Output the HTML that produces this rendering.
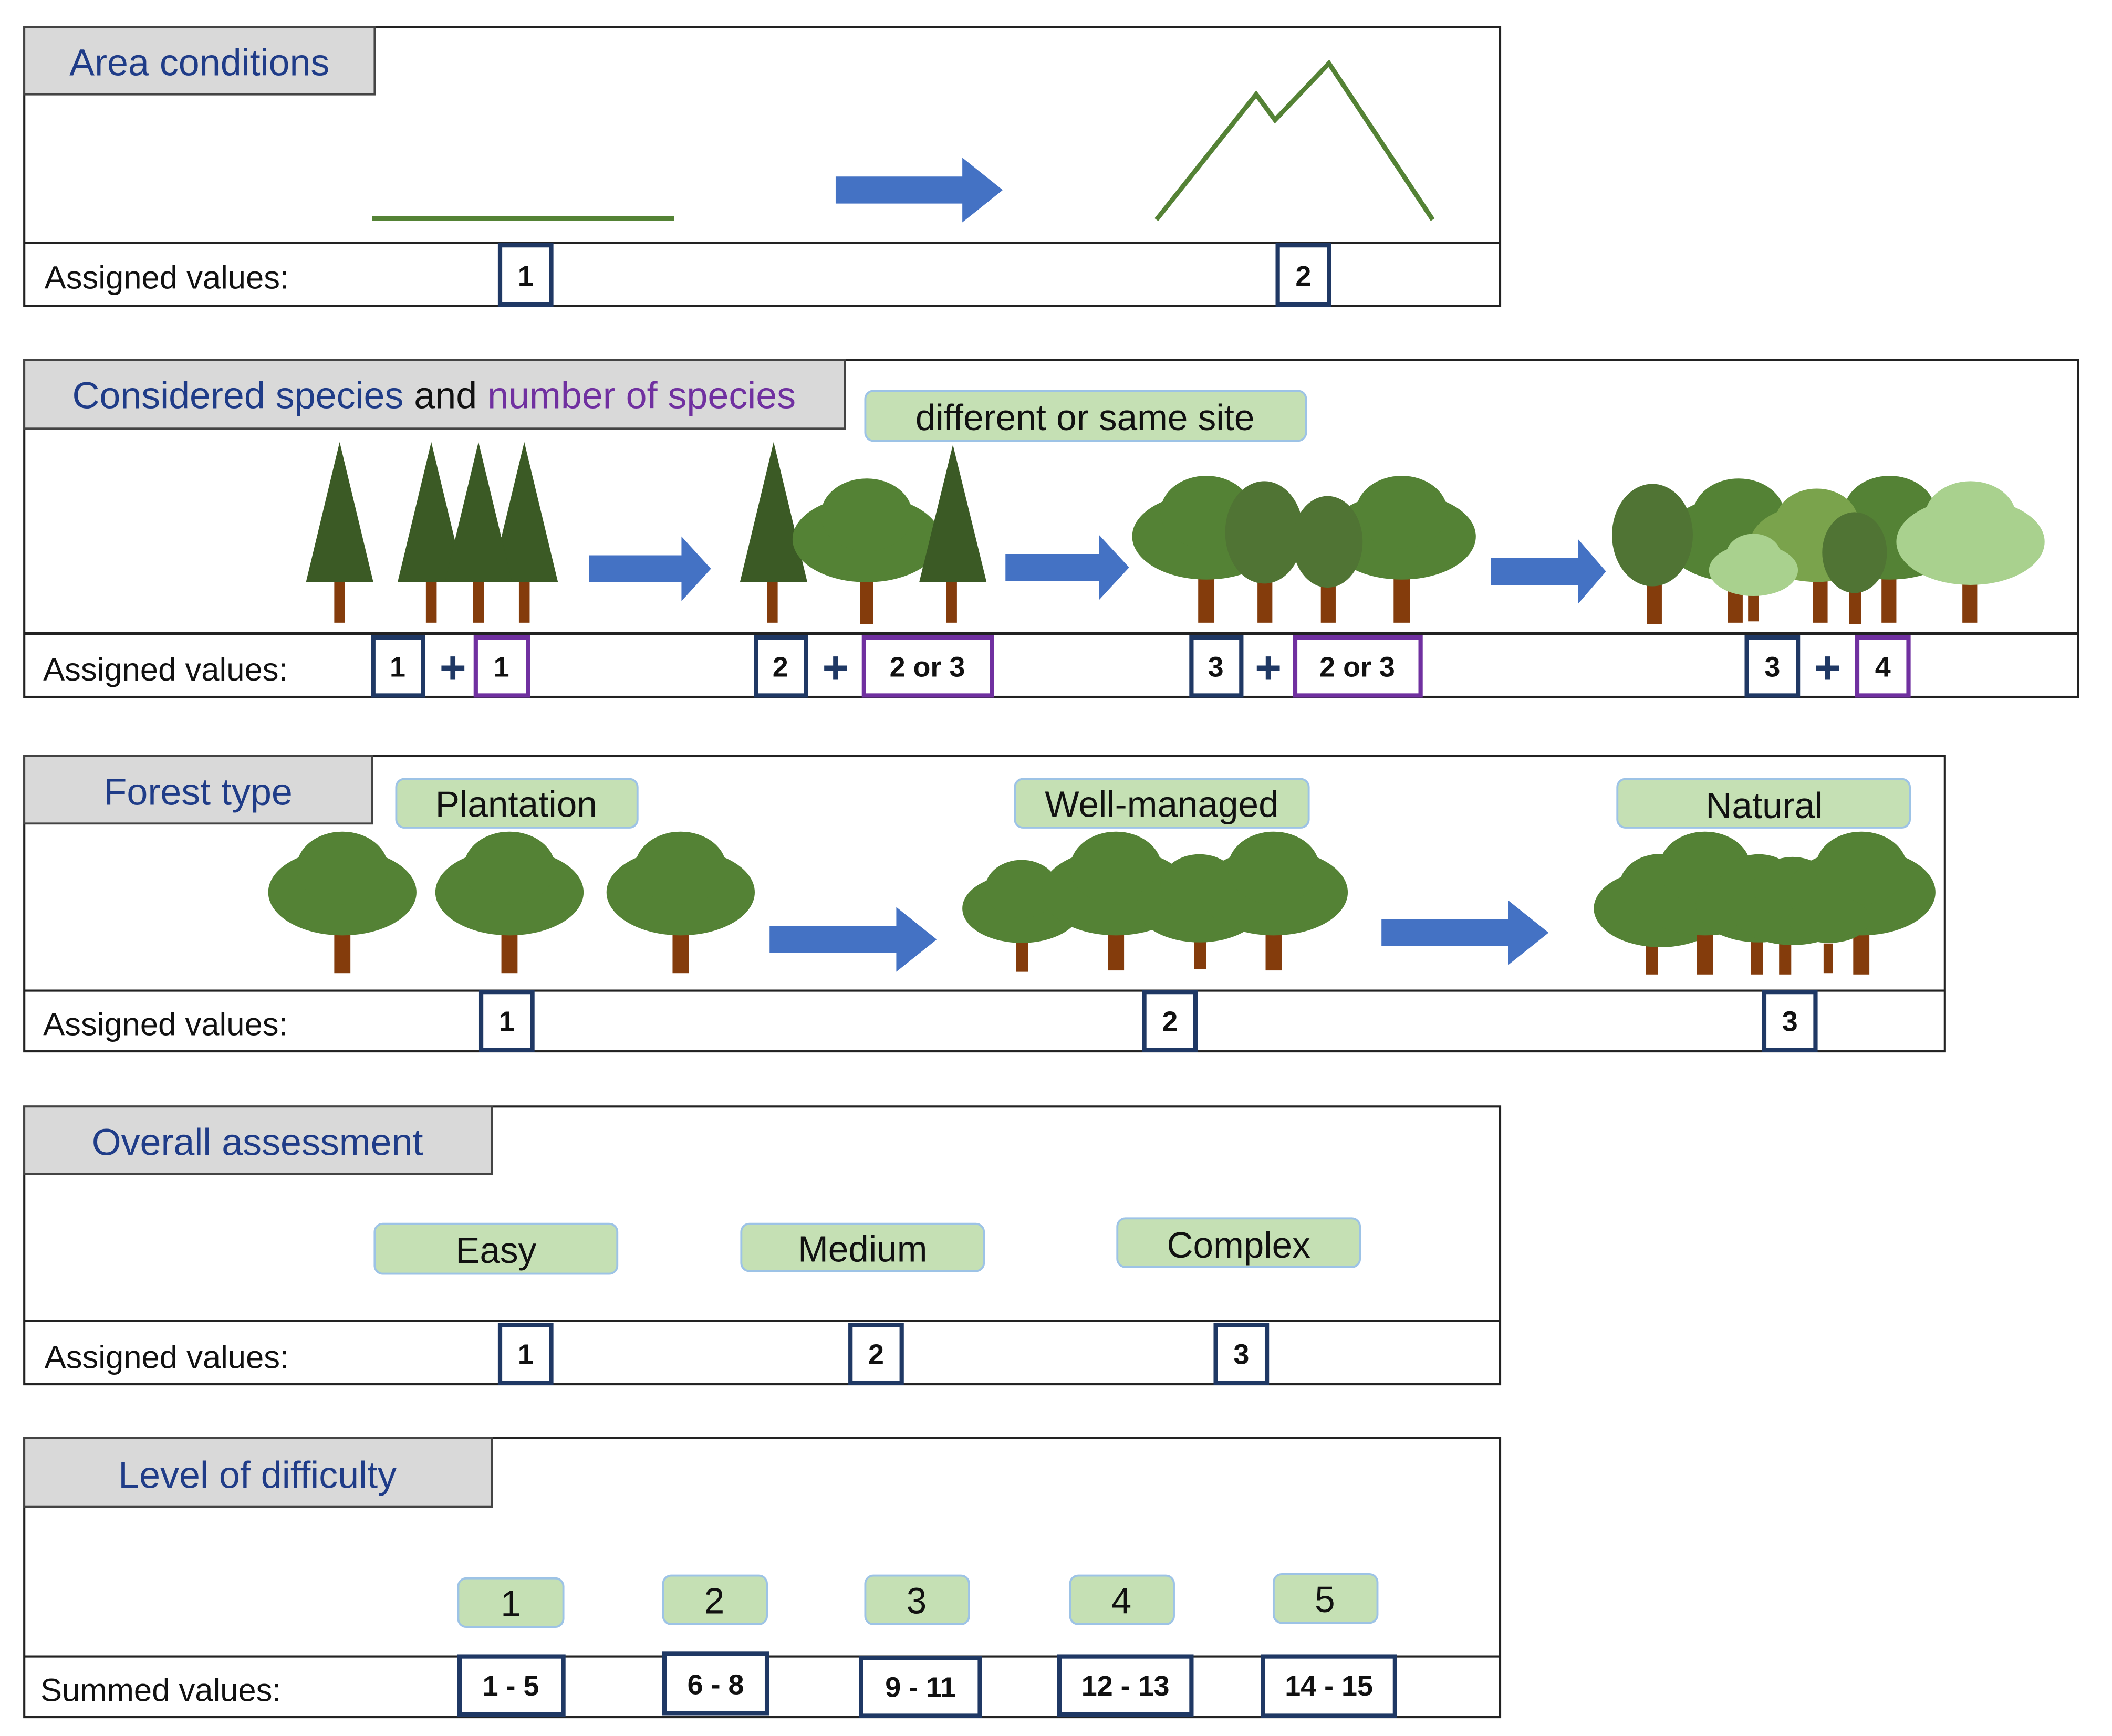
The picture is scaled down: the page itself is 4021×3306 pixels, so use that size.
<!DOCTYPE html>
<html><head><meta charset="utf-8"><style>html,body{margin:0;padding:0;background:#fff}svg{display:block}</style></head>
<body>
<svg width="4021" height="3306" viewBox="0 0 1567 1288" preserveAspectRatio="none" xmlns="http://www.w3.org/2000/svg" font-family="Liberation Sans, sans-serif">
<defs>
<g id="cl"><ellipse cx="0" cy="0" rx="55" ry="32"/><ellipse cx="0" cy="-18" rx="34" ry="27"/></g>
<polygon id="ar" points="0,-10 94,-10 94,-24 124,0 94,24 94,10 0,10" fill="#4472c4"/>
</defs>
<style>
.frame{fill:none;stroke:#222;stroke-width:1.6}
.hdr{fill:#d9d9d9;stroke:#444;stroke-width:1.5}
.ht{font-size:28px;fill:#1f3c88}
.lab{fill:#c5e0b4;stroke:#9dc3e6;stroke-width:1.5}
.lt{font-size:27px;fill:#111;text-anchor:middle}
.vb{fill:#fff;stroke:#1f3864;stroke-width:3.2}
.pb{fill:#fff;stroke:#7030a0;stroke-width:3.2}
.vt{font-size:21px;font-weight:bold;fill:#111;text-anchor:middle}
.av{font-size:24px;fill:#111}
.tr{fill:#843c0c}
.pl{font-size:34px;font-weight:bold;fill:#1f3864;text-anchor:middle}
</style>

<!-- Section 1 -->
<rect class="frame" x="18" y="20" width="1095" height="207"/>
<line x1="18" y1="180" x2="1113" y2="180" stroke="#222" stroke-width="1.6"/>
<rect class="hdr" x="18" y="20" width="260" height="50"/>
<text class="ht" x="148" y="56" text-anchor="middle">Area conditions</text>
<line x1="276" y1="162" x2="500" y2="162" stroke="#548235" stroke-width="3.5"/>
<use href="#ar" transform="translate(620,141)"/>
<polyline points="858,163 932,70 946,89 986,47 1063,163" fill="none" stroke="#548235" stroke-width="3.5"/>
<text class="av" x="33" y="214">Assigned values:</text>
<rect class="vb" x="371" y="182" width="38" height="44"/><text class="vt" x="390" y="212">1</text>
<rect class="vb" x="948" y="182" width="38" height="44"/><text class="vt" x="967" y="212">2</text>

<!-- Section 2 -->
<rect class="frame" x="18" y="267" width="1524" height="250"/>
<line x1="18" y1="470" x2="1542" y2="470" stroke="#222" stroke-width="2"/>
<rect class="hdr" x="18" y="267" width="609" height="51"/>
<text class="ht" x="322" y="303" text-anchor="middle">Considered species <tspan fill="#111">and</tspan> <tspan fill="#7030a0">number of species</tspan></text>
<rect class="lab" x="642" y="290" width="327" height="37" rx="6"/>
<text class="lt" x="805" y="319">different or same site</text>
<g fill="#3b5a25">
<rect class="tr" x="248" y="430" width="8" height="32"/><polygon points="252,328 227,432 277,432"/>
<rect class="tr" x="316" y="430" width="8" height="32"/><polygon points="320,328 295,432 345,432"/>
<rect class="tr" x="385" y="430" width="8" height="32"/><polygon points="389,328 364,432 414,432"/>
<rect class="tr" x="351" y="430" width="8" height="32"/><polygon points="355,328 330,432 380,432"/>
</g>
<use href="#ar" transform="translate(437,422) scale(0.73,1)"/>
<g fill="#3b5a25">
<rect class="tr" x="569" y="430" width="8" height="32"/><polygon points="574,328 549,432 599,432"/>
<rect class="tr" x="638" y="430" width="10" height="33"/><use href="#cl" transform="translate(643,400)" fill="#548235"/>
<rect class="tr" x="702" y="430" width="8" height="32"/><polygon points="707,330 682,432 732,432"/>
</g>
<use href="#ar" transform="translate(746,421) scale(0.74,1)"/>
<rect class="tr" x="889" y="425" width="12" height="37"/><use href="#cl" transform="translate(895,398)" fill="#548235"/>
<rect class="tr" x="1034" y="425" width="12" height="37"/><use href="#cl" transform="translate(1040,398)" fill="#548235"/>
<rect class="tr" x="933" y="425" width="11" height="37"/><ellipse cx="938" cy="395" rx="29" ry="38" fill="#507434"/>
<rect class="tr" x="980" y="425" width="11" height="37"/><ellipse cx="985" cy="402" rx="26" ry="34" fill="#507434"/>
<use href="#ar" transform="translate(1106,424) scale(0.69,1)"/>
<rect class="tr" x="1282" y="420" width="11" height="42"/><use href="#cl" transform="translate(1290,400)" fill="#548235"/>
<rect class="tr" x="1396" y="420" width="11" height="42"/><use href="#cl" transform="translate(1402,398)" fill="#548235"/>
<rect class="tr" x="1345" y="420" width="11" height="42"/><use href="#cl" transform="translate(1348,403) scale(0.9)" fill="#7aa34c"/>
<rect class="tr" x="1222" y="420" width="11" height="43"/><ellipse cx="1226" cy="397" rx="30" ry="38" fill="#507434"/>
<rect class="tr" x="1297" y="420" width="8" height="41"/><use href="#cl" transform="translate(1301,423) scale(0.6)" fill="#a9d18e"/>
<rect class="tr" x="1372" y="420" width="9" height="43"/><ellipse cx="1376" cy="410" rx="24" ry="30" fill="#507434"/>
<rect class="tr" x="1456" y="420" width="11" height="42"/><use href="#cl" transform="translate(1462,402)" fill="#a9d18e"/>
<text class="av" x="32" y="505">Assigned values:</text>
<rect class="vb" x="277" y="473" width="37" height="43"/><text class="vt" x="295" y="502">1</text>
<text class="pl" x="336" y="507">+</text>
<rect class="pb" x="353" y="473" width="39" height="43"/><text class="vt" x="372" y="502">1</text>
<rect class="vb" x="561" y="473" width="37" height="43"/><text class="vt" x="579" y="502">2</text>
<text class="pl" x="620" y="507">+</text>
<rect class="pb" x="641" y="473" width="95" height="43"/><text class="vt" x="688" y="502">2 or 3</text>
<rect class="vb" x="884" y="473" width="37" height="43"/><text class="vt" x="902" y="502">3</text>
<text class="pl" x="941" y="507">+</text>
<rect class="pb" x="961" y="473" width="93" height="43"/><text class="vt" x="1007" y="502">2 or 3</text>
<rect class="vb" x="1296" y="473" width="38" height="43"/><text class="vt" x="1315" y="502">3</text>
<text class="pl" x="1356" y="507">+</text>
<rect class="pb" x="1378" y="473" width="38" height="43"/><text class="vt" x="1397" y="502">4</text>

<!-- Section 3 -->
<rect class="frame" x="18" y="561" width="1425" height="219"/>
<line x1="18" y1="735" x2="1443" y2="735" stroke="#222" stroke-width="1.6"/>
<rect class="hdr" x="18" y="561" width="258" height="50"/>
<text class="ht" x="147" y="597" text-anchor="middle">Forest type</text>
<g fill="#548235">
<rect class="tr" x="248" y="688" width="12" height="34"/><use href="#cl" transform="translate(254,662)"/>
<rect class="tr" x="372" y="688" width="12" height="34"/><use href="#cl" transform="translate(378,662)"/>
<rect class="tr" x="499" y="688" width="12" height="34"/><use href="#cl" transform="translate(505,662)"/>
<rect class="tr" x="754" y="690" width="9" height="31"/><use href="#cl" transform="translate(758,674) scale(0.8)"/>
<rect class="tr" x="822" y="688" width="12" height="32"/><use href="#cl" transform="translate(828,662)"/>
<rect class="tr" x="886" y="690" width="9" height="29"/><use href="#cl" transform="translate(890,672) scale(0.85)"/>
<rect class="tr" x="939" y="688" width="12" height="32"/><use href="#cl" transform="translate(945,662)"/>
<rect class="tr" x="1221" y="690" width="9" height="33"/><use href="#cl" transform="translate(1232,674) scale(0.9)"/>
<rect class="tr" x="1259" y="690" width="12" height="33"/><use href="#cl" transform="translate(1265,662)"/>
<rect class="tr" x="1299" y="690" width="9" height="33"/><use href="#cl" transform="translate(1305,672) scale(0.85)"/>
<rect class="tr" x="1320" y="690" width="9" height="33"/><use href="#cl" transform="translate(1330,674) scale(0.85)"/>
<rect class="tr" x="1375" y="690" width="12" height="33"/><use href="#cl" transform="translate(1381,662)"/>
<rect class="tr" x="1353" y="700" width="7" height="22"/><use href="#cl" transform="translate(1357,682) scale(0.55)"/>
</g>
<rect class="lab" x="294" y="578" width="179" height="36" rx="6"/><text class="lt" x="383" y="606">Plantation</text>
<rect class="lab" x="753" y="578" width="218" height="36" rx="6"/><text class="lt" x="862" y="606">Well-managed</text>
<rect class="lab" x="1200" y="578" width="217" height="36" rx="6"/><text class="lt" x="1309" y="607">Natural</text>
<use href="#ar" transform="translate(571,697)"/>
<use href="#ar" transform="translate(1025,692)"/>
<text class="av" x="32" y="768">Assigned values:</text>
<rect class="vb" x="357" y="736" width="38" height="43"/><text class="vt" x="376" y="765">1</text>
<rect class="vb" x="849" y="736" width="38" height="43"/><text class="vt" x="868" y="765">2</text>
<rect class="vb" x="1309" y="736" width="38" height="43"/><text class="vt" x="1328" y="765">3</text>

<!-- Section 4 -->
<rect class="frame" x="18" y="821" width="1095" height="206"/>
<line x1="18" y1="980" x2="1113" y2="980" stroke="#222" stroke-width="1.6"/>
<rect class="hdr" x="18" y="821" width="347" height="50"/>
<text class="ht" x="191" y="857" text-anchor="middle">Overall assessment</text>
<rect class="lab" x="278" y="908" width="180" height="37" rx="6"/><text class="lt" x="368" y="937">Easy</text>
<rect class="lab" x="550" y="908" width="180" height="35" rx="6"/><text class="lt" x="640" y="936">Medium</text>
<rect class="lab" x="829" y="904" width="180" height="36" rx="6"/><text class="lt" x="919" y="933">Complex</text>
<text class="av" x="33" y="1015">Assigned values:</text>
<rect class="vb" x="371" y="983" width="38" height="43"/><text class="vt" x="390" y="1012">1</text>
<rect class="vb" x="631" y="983" width="38" height="43"/><text class="vt" x="650" y="1012">2</text>
<rect class="vb" x="902" y="983" width="38" height="43"/><text class="vt" x="921" y="1012">3</text>

<!-- Section 5 -->
<rect class="frame" x="18" y="1067" width="1095" height="207"/>
<line x1="18" y1="1229" x2="1113" y2="1229" stroke="#222" stroke-width="1.6"/>
<rect class="hdr" x="18" y="1067" width="347" height="51"/>
<text class="ht" x="191" y="1104" text-anchor="middle">Level of difficulty</text>
<rect class="lab" x="340" y="1171" width="78" height="36" rx="6"/><text class="lt" x="379" y="1199">1</text>
<rect class="lab" x="492" y="1169" width="77" height="36" rx="6"/><text class="lt" x="530" y="1197">2</text>
<rect class="lab" x="642" y="1169" width="77" height="36" rx="6"/><text class="lt" x="680" y="1197">3</text>
<rect class="lab" x="794" y="1169" width="77" height="36" rx="6"/><text class="lt" x="832" y="1197">4</text>
<rect class="lab" x="945" y="1168" width="77" height="36" rx="6"/><text class="lt" x="983" y="1196">5</text>
<text class="av" x="30" y="1262">Summed values:</text>
<rect class="vb" x="341" y="1229" width="77" height="43"/><text class="vt" x="379" y="1258">1 - 5</text>
<rect class="vb" x="493" y="1227" width="76" height="44"/><text class="vt" x="531" y="1257">6 - 8</text>
<rect class="vb" x="639" y="1230" width="88" height="43"/><text class="vt" x="683" y="1259">9 - 11</text>
<rect class="vb" x="786" y="1229" width="98" height="43"/><text class="vt" x="835" y="1258">12 - 13</text>
<rect class="vb" x="937" y="1229" width="98" height="44"/><text class="vt" x="986" y="1258">14 - 15</text>
</svg>
</body></html>
